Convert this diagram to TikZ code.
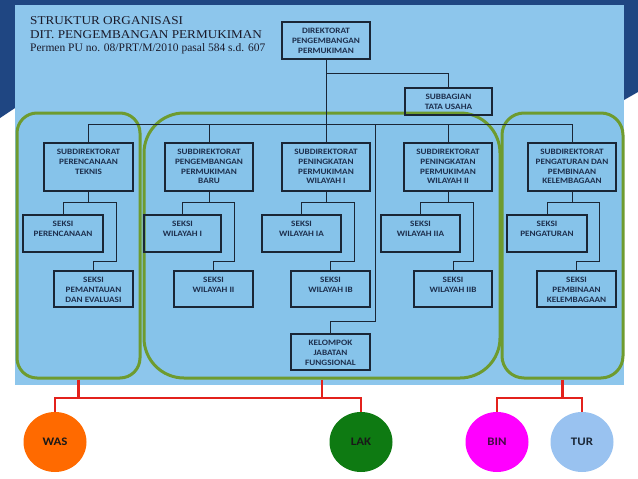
\documentclass[tikz,border=0pt]{standalone}
\usepackage{fontspec}
\usetikzlibrary{shapes.geometric}
\newfontfamily\boxfont{Carlito}[FakeStretch=1.12]
\newfontfamily\titlefont{Liberation Serif}[FakeStretch=1.1]
\newfontfamily\subtitlefont{Liberation Serif}
\definecolor{navy}{HTML}{1F4682}
\definecolor{panel}{HTML}{8DC6EC}
\definecolor{infill}{HTML}{86C3EA}
\definecolor{grn}{HTML}{6E9B2F}
\definecolor{boxline}{HTML}{1A2636}
\definecolor{boxtext}{HTML}{1D2F4D}
\definecolor{titlec}{HTML}{1A1A2A}
\definecolor{redline}{HTML}{E3211C}
\definecolor{wasc}{HTML}{FF6A00}
\definecolor{lakc}{HTML}{0E7A12}
\definecolor{binc}{HTML}{FF00FF}
\definecolor{turc}{HTML}{99C2F0}
\tikzset{
  ob/.style={draw=boxline, line width=1.1pt, inner sep=0pt, outer sep=0pt,
    font=\boxfont\bfseries\fontsize{8.2}{9.8}\selectfont, text=boxtext},
  conn/.style={draw=boxline, line width=1pt},
  grp/.style={draw=grn, line width=3pt, fill=infill, inner sep=0pt},
  rl/.style={draw=redline, line width=2.2pt},
  circ/.style={ellipse, inner sep=0pt, minimum width=63pt, minimum height=60pt,
    font=\boxfont\bfseries\fontsize{11.5}{13}\selectfont},
  ttl/.style={anchor=base west, inner sep=0pt, text=titlec}
}
\newcommand{\obox}[6]{\node[ob] (#1) at ({(#2+#4)/2},{(#3+#5)/2})
  {\parbox[c][\dimexpr #5pt-#3pt\relax][t]{\dimexpr #4pt-#2pt\relax}{\centering\rule{0pt}{11.5pt}#6\par}};}
\newcommand{\forkto}[4]{%
  \draw[conn] (#1.south) |- (fy -| #2) -- (#2.north);
  \draw[conn] (fy -| #1) -| (#4,261) -| (#3.north);}
\begin{document}
\begin{tikzpicture}[x=1pt,y=-1pt]
\useasboundingbox (0,0) rectangle (638,479);
\fill[white] (0,0) rectangle (638,479);
% slide background
\fill[navy] (0,0) -- (638,0) -- (638,92) -- (624,100)
  -- (624,5) -- (15,5) -- (15,108) -- (0,118) -- cycle;
\fill[panel] (15,5) rectangle (624,385);
% groups
\node[grp, minimum width=123pt, minimum height=265pt, rounded corners=20pt] (g1) at (78.5,245.5) {};
\node[grp, minimum width=356pt, minimum height=265pt, rounded corners=40pt] (g2) at (322,245.5) {};
\node[grp, minimum width=121pt, minimum height=265pt, rounded corners=22pt] (g3) at (562.5,245.5) {};
% title
\node[ttl, font=\titlefont\fontsize{12}{14}\selectfont] (t1) at (30,24) {STRUKTUR ORGANISASI};
\node[ttl, font=\titlefont\fontsize{12}{14}\selectfont] (t2) at (30,38.7) {DIT. PENGEMBANGAN PERMUKIMAN};
\node[ttl, font=\subtitlefont\fontsize{11.5}{13}\selectfont] (t3) at (30,51.7) {Permen PU no. 08/PRT/M/2010 pasal 584 s.d. 607};
% boxes
\obox{dir}{282}{22}{370}{59}{DIREKTORAT\\PENGEMBANGAN\\PERMUKIMAN}
\obox{tu}{405}{88}{492}{115}{SUBBAGIAN\\TATA USAHA}
\obox{sd1}{44}{143}{133}{191}{SUBDIREKTORAT\\PERENCANAAN\\TEKNIS}
\obox{sd2}{165}{143}{253}{191}{SUBDIREKTORAT\\PENGEMBANGAN\\PERMUKIMAN\\BARU}
\obox{sd3}{282}{143}{370}{191}{SUBDIREKTORAT\\PENINGKATAN\\PERMUKIMAN\\WILAYAH I}
\obox{sd4}{404}{143}{492}{191}{SUBDIREKTORAT\\PENINGKATAN\\PERMUKIMAN\\WILAYAH II}
\obox{sd5}{528}{143}{616}{191}{SUBDIREKTORAT\\PENGATURAN DAN\\PEMBINAAN\\KELEMBAGAAN}
\obox{s1a}{23}{215}{103}{252}{SEKSI\\PERENCANAAN}
\obox{s1b}{54}{271}{133}{307}{SEKSI\\PEMANTAUAN\\DAN EVALUASI}
\obox{s2a}{144}{215}{221}{252}{SEKSI\\WILAYAH I}
\obox{s2b}{174}{271}{253}{307}{SEKSI\\WILAYAH II}
\obox{s3a}{262}{215}{341}{252}{SEKSI\\WILAYAH IA}
\obox{s3b}{291}{271}{370}{307}{SEKSI\\WILAYAH IB}
\obox{s4a}{381}{215}{460}{252}{SEKSI\\WILAYAH IIA}
\obox{s4b}{414}{271}{492}{307}{SEKSI\\WILAYAH IIB}
\obox{s5a}{507}{215}{587}{252}{SEKSI\\PENGATURAN}
\obox{s5b}{537}{271}{616}{307}{SEKSI\\PEMBINAAN\\KELEMBAGAAN}
\obox{kel}{291}{334}{370}{370}{KELOMPOK\\JABATAN\\FUNGSIONAL}
% connectors
\coordinate (bus) at (0,124);
\coordinate (tuy) at (0,73);
\coordinate (fy) at (0,202);
\coordinate (kx) at (375,321);
\draw[conn] (dir.south) -- (sd3.north);
\draw[conn] (tuy -| dir) -| (tu.north);
\draw[conn] (sd1.north) |- (bus -| sd5) -- (sd5.north);
\draw[conn] (bus -| sd2) -- (sd2.north);
\draw[conn] (bus -| sd4) -- (sd4.north);
\draw[conn] (bus -| kx) -- (kx) -| (kel.north);
\forkto{sd1}{s1a}{s1b}{116}
\forkto{sd2}{s2a}{s2b}{234}
\forkto{sd3}{s3a}{s3b}{354}
\forkto{sd4}{s4a}{s4b}{473}
\forkto{sd5}{s5a}{s5b}{599}
% circles
\node[circ, fill=wasc, text=black!90] (was) at (55,442) {WAS};
\node[circ, fill=lakc, text=black!90] (lak) at (361,442) {LAK};
\node[circ, fill=binc, text={rgb,255:red,70;green,10;blue,70}] (bin) at (497,442) {BIN};
\node[circ, fill=turc, text=boxline] (tur) at (582,442) {TUR};
% red connectors
\coordinate (rb) at (0,398);
\draw[rl] (g1.south) -- (rb -| g1);
\draw[rl] (g2.south) -- (rb -| g2);
\draw[rl] (was.north) |- (rb -| lak) -- (lak.north);
\draw[rl] (g3.south) -- (rb -| g3);
\draw[rl] (bin.north) |- (rb -| tur) -- (tur.north);
\end{tikzpicture}
\end{document}
